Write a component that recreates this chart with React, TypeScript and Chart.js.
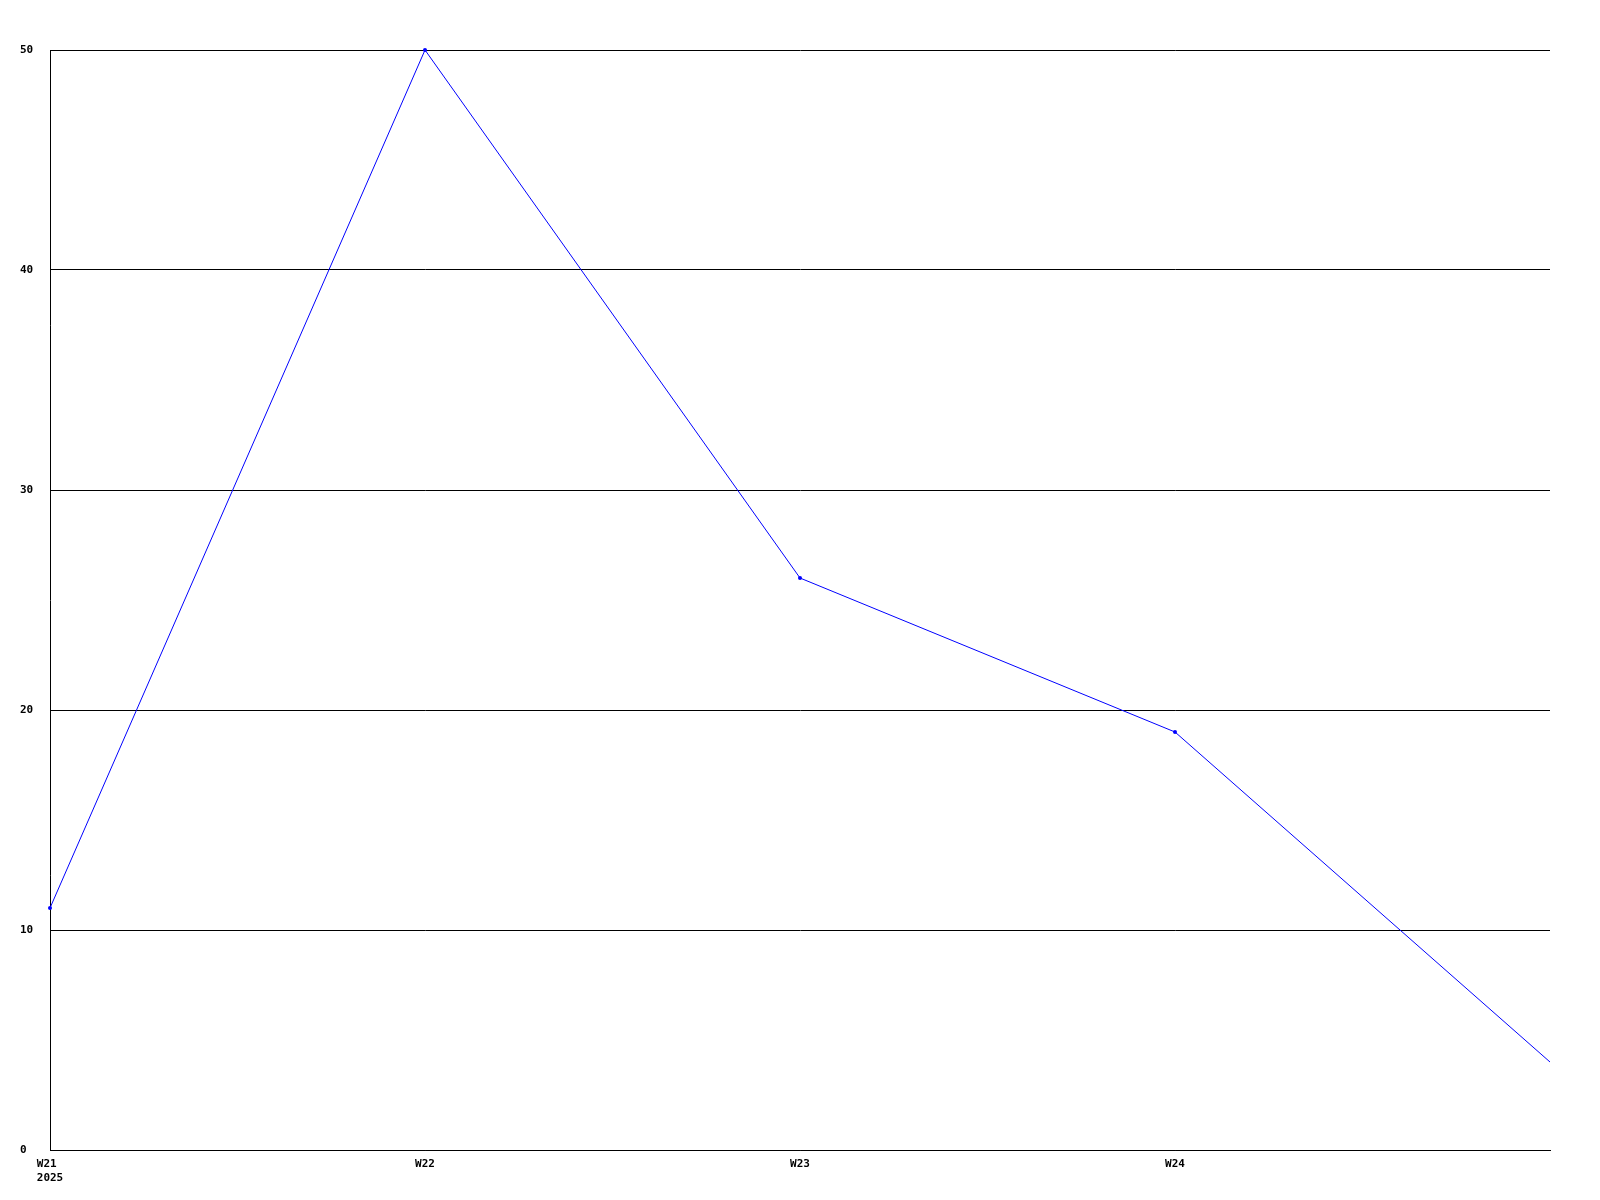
import React, { useEffect, useRef } from "react";
import { Chart, registerables } from "chart.js";

Chart.register(...registerables);

const categories = ["W21", "W22", "W23", "W24", "W25"];
const xTickLabels: (string | string[])[] = [["W21 ", "2025"], "W22", "W23", "W24", ""];
const seriesValues = [11, 50, 26, 19, 4];
const pointRadii = [2, 2, 2, 2, 0];
const yTicks = [0, 10, 20, 30, 40, 50];

const FONT = { family: "'DejaVu Sans Mono', monospace", size: 11, weight: "bold" as const, lineHeight: 1.3 };

export default function App() {
  const ref = useRef<HTMLCanvasElement | null>(null);
  useEffect(() => {
    if (!ref.current) return;
    const chart = new Chart(ref.current, {
      type: "line",
      data: {
        labels: categories,
        datasets: [
          {
            data: seriesValues,
            borderColor: "#0000ff",
            backgroundColor: "#0000ff",
            borderWidth: 1,
            pointRadius: pointRadii,
            pointBorderWidth: 0,
            pointHoverRadius: 0,
            tension: 0,
            fill: false,
            clip: false as any,
          },
        ],
      },
      options: {
        responsive: false,
        animation: false,
        devicePixelRatio: 1,
        layout: { padding: { left: 20, top: 50, right: 50, bottom: 0 } },
        plugins: { legend: { display: false }, tooltip: { enabled: false } },
        scales: {
          x: {
            type: "category",
            offset: false,
            grid: { display: false, drawTicks: false },
            border: { display: true, color: "#000000", width: 1 },
            ticks: {
              color: "#000000",
              font: FONT,
              padding: 7,
              maxRotation: 0,
              autoSkip: false,
              callback: (_v: any, i: number) => xTickLabels[i],
            },
            afterFit: (s: any) => {
              s.height = 50;
            },
          },
          y: {
            min: 0,
            max: 50,
            afterBuildTicks: (s: any) => {
              s.ticks = yTicks.map((v) => ({ value: v }));
            },
            grid: { display: true, color: "#000000", lineWidth: 1, drawTicks: false },
            border: { display: true, color: "#000000", width: 1 },
            ticks: {
              color: "#000000",
              font: { family: FONT.family, size: 11, weight: "bold" as const },
              crossAlign: "far",
              padding: 0,
            },
            afterFit: (s: any) => {
              s.width = 30;
            },
          },
        },
      },
    });
    return () => chart.destroy();
  }, []);
  return (
    <div style={{ position: "absolute", left: 0, top: 0, width: 1600, height: 1200, background: "#ffffff" }}>
      <canvas ref={ref} width={1600} height={1200} style={{ display: "block" }} />
    </div>
  );
}
